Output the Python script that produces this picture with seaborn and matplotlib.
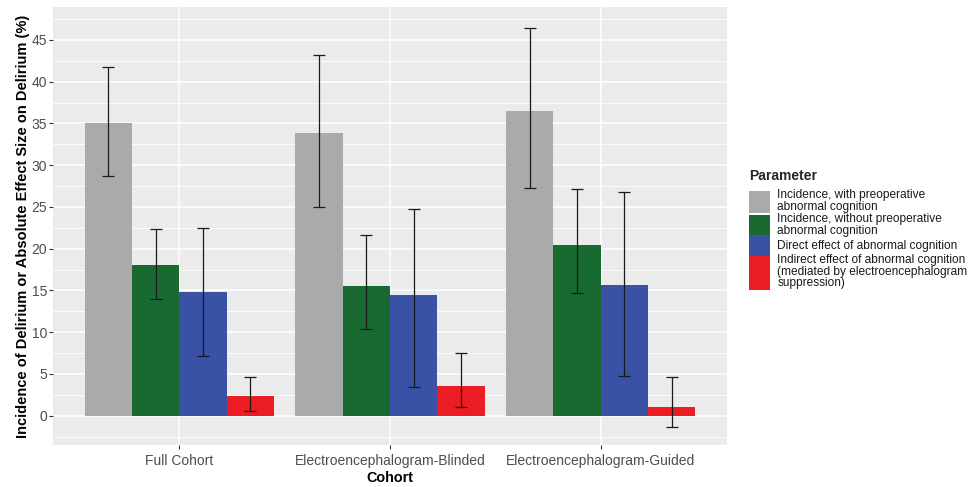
import matplotlib
matplotlib.use("Agg")
import matplotlib.pyplot as plt
import seaborn as sns
import pandas as pd
import numpy as np
from matplotlib.ticker import MultipleLocator
from matplotlib.patches import Rectangle
from matplotlib.legend_handler import HandlerBase

cohorts = ["Full Cohort", "Electroencephalogram-Blinded", "Electroencephalogram-Guided"]
parameters = [
    "Incidence, with preoperative\nabnormal cognition",
    "Incidence, without preoperative\nabnormal cognition",
    "Direct effect of abnormal cognition",
    "Indirect effect of abnormal cognition\n(mediated by electroencephalogram\nsuppression)",
]
colors = ["#AAAAAA", "#186A31", "#3A52A6", "#EC1C24"]

with_abn = [35.1, 33.8, 36.5]
with_abn_lo = [28.7, 25.0, 27.3]
with_abn_hi = [41.8, 43.2, 46.4]

without_abn = [18.0, 15.5, 20.4]
without_abn_lo = [14.0, 10.4, 14.7]
without_abn_hi = [22.4, 21.7, 27.1]

direct = [14.8, 14.4, 15.6]
direct_lo = [7.2, 3.4, 4.8]
direct_hi = [22.5, 24.8, 26.8]

indirect = [2.4, 3.6, 1.0]
indirect_lo = [0.6, 1.0, -1.3]
indirect_hi = [4.7, 7.5, 4.7]

values = [with_abn, without_abn, direct, indirect]
lows = [with_abn_lo, without_abn_lo, direct_lo, indirect_lo]
highs = [with_abn_hi, without_abn_hi, direct_hi, indirect_hi]

rows = []
for p, v, lo, hi in zip(parameters, values, lows, highs):
    for c, vv, l, h in zip(cohorts, v, lo, hi):
        rows.append({"Cohort": c, "Parameter": p, "value": vv, "lo": l, "hi": h})
df = pd.DataFrame(rows)

sns.set_theme(style="darkgrid")
plt.rcParams["font.family"] = ["Liberation Sans", "DejaVu Sans"]

W, H = 975, 487
fig = plt.figure(figsize=(W / 100, H / 100), dpi=100)
ax = fig.add_axes([53 / W, 1 - 445 / H, (727 - 53) / W, (445 - 7.3) / H])
ax.set_facecolor("#EBEBEB")

sns.barplot(data=df, x="Cohort", y="value", hue="Parameter", order=cohorts,
            hue_order=parameters, palette=colors, errorbar=None, width=0.9,
            gap=0, saturation=1, linewidth=0, legend=False, ax=ax)

for container, p in zip(ax.containers, parameters):
    sub = df[df["Parameter"] == p].set_index("Cohort").loc[cohorts]
    xs = [b.get_x() + b.get_width() / 2 for b in container]
    ys = sub["value"].values
    yerr = np.vstack([ys - sub["lo"].values, sub["hi"].values - ys])
    ax.errorbar(xs, ys, yerr=yerr, fmt="none", ecolor="#1A1A1A",
                elinewidth=0.9, capsize=4, capthick=0.9, zorder=5)

ax.set_xlim(-0.6, 2.6)
ax.set_ylim(-3.5, 48.9)
ax.yaxis.set_major_locator(MultipleLocator(5))
ax.yaxis.set_minor_locator(MultipleLocator(2.5))
ax.set_axisbelow(True)
ax.grid(which="major", color="white", linewidth=1.1)
ax.grid(which="minor", axis="y", color="white", linewidth=0.55)
ax.tick_params(which="minor", length=0)
ax.tick_params(which="major", bottom=True, left=True, direction="out",
               length=2.8, width=0.8, color="#333333", labelsize=10,
               labelcolor="#4D4D4D")
ax.tick_params(axis="y", pad=1.5)
ax.tick_params(axis="x", pad=4)
for s in ax.spines.values():
    s.set_visible(False)

ax.set_xlabel("Cohort", fontsize=10.4, fontweight="bold", color="black", labelpad=1.5)
ax.set_ylabel("Incidence of Delirium or Absolute Effect Size on Delirium (%)",
              fontsize=10.5, fontweight="bold", color="black", labelpad=1)


class KeyHandler(HandlerBase):
    def __init__(self, hem):
        super().__init__()
        self.hem = hem

    def legend_artist(self, legend, orig_handle, fontsize, handlebox):
        w = handlebox.width
        h = self.hem * fontsize
        y0 = -handlebox.ydescent + (handlebox.height - h) / 2
        r = Rectangle((0, y0), w, h, facecolor=orig_handle.get_facecolor(),
                      edgecolor="none", transform=handlebox.get_transform())
        handlebox.add_artist(r)
        return r


handles = [Rectangle((0, 0), 1, 1, facecolor=c) for c in colors]
key_h = [1.82, 1.82, 1.78, 2.85]
hmap = {h: KeyHandler(k) for h, k in zip(handles, key_h)}
leg = fig.legend(handles, parameters, handler_map=hmap, loc="center left",
                 bbox_to_anchor=(749 / W, 1 - 229 / H), frameon=False,
                 title="Parameter", alignment="left", fontsize=8.6,
                 title_fontproperties={"weight": "bold", "size": 10},
                 handlelength=1.72, handleheight=1.92, handletextpad=0.65,
                 labelspacing=0.0, borderpad=0, borderaxespad=0)
leg._legend_box.sep = 5
for t in leg.get_texts():
    t.set_linespacing(0.95)
    t.set_color("#1A1A1A")

fig.savefig("out.png", dpi=100, facecolor="white")
